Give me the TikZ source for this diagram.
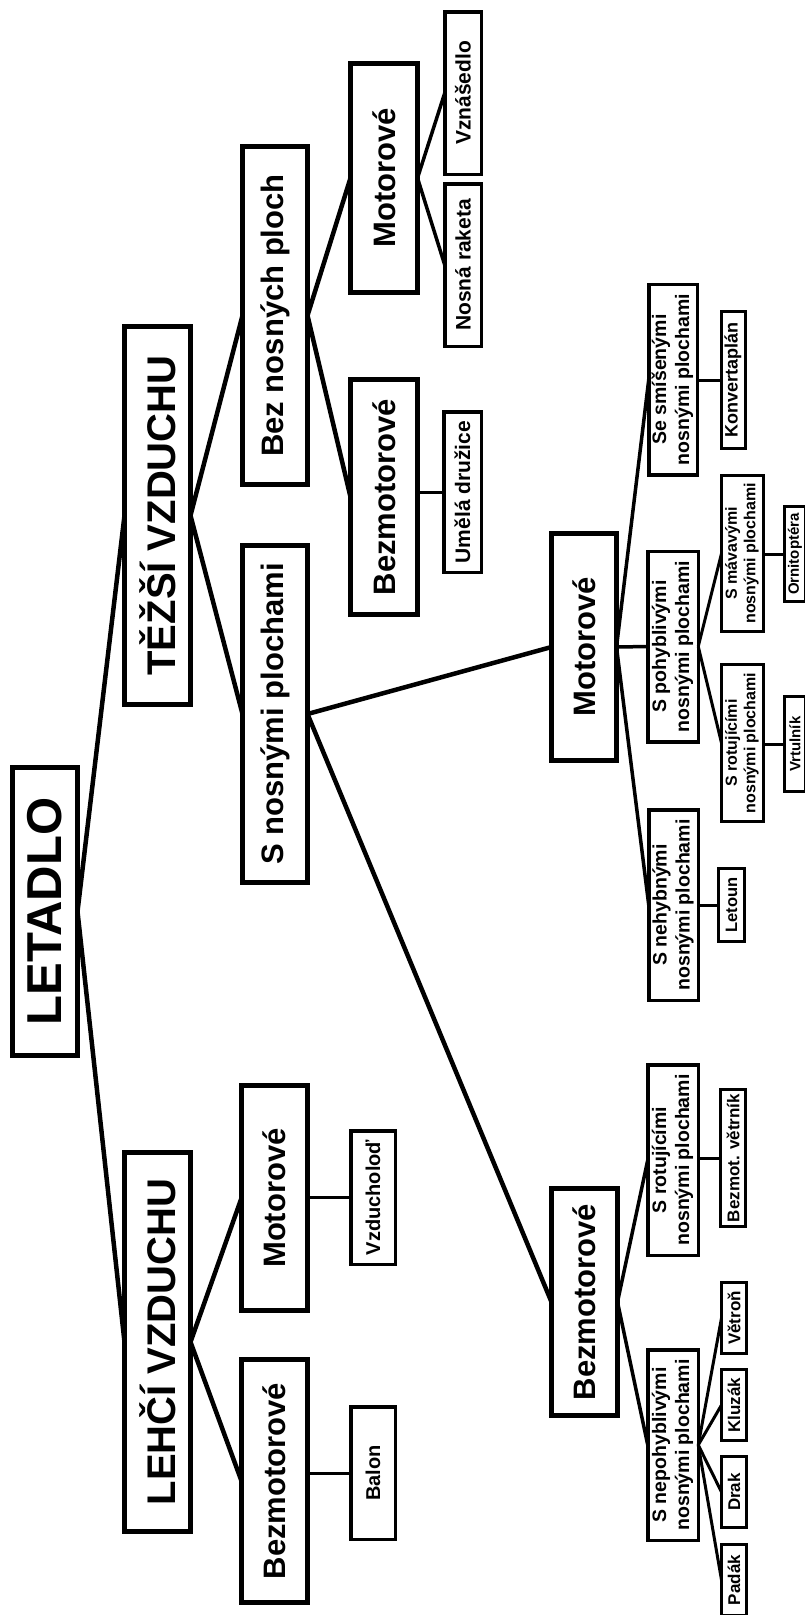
\documentclass[tikz,border=0pt]{standalone}
\usepackage{fontspec}
\setmainfont{Liberation Sans}
\newcommand\myfs[2]{\fontsize{#1}{#2}\selectfont\bfseries}
\newcommand\rt[1]{\rotatebox{90}{#1}}
\newcommand\rtt[2]{\rotatebox{90}{\begin{tabular}{@{}c@{}}#1\\#2\end{tabular}}}
\tikzset{
  bx/.style={draw, inner sep=0pt, outer sep=0pt, align=center},
  w5/.style={bx, line width=5pt},
  w35/.style={bx, line width=3.5pt},
  w3/.style={bx, line width=3pt},
  c45/.style={line width=4.5pt},
  c35/.style={line width=3.5pt},
  c3/.style={line width=3pt},
}
\begin{document}
\begin{tikzpicture}[x=1pt,y=-1pt]
\useasboundingbox[fill=white] (0,0) rectangle (804,1615);
% level 0
\node[w5, minimum width=65pt, minimum height=288pt, font=\myfs{49}{55}] (let) at (45,911.5) {\rt{LETADLO}};
% level 1
\node[w5, minimum width=66pt, minimum height=378pt, font=\myfs{40}{46}] (tez) at (157.5,515.5) {\rt{TĚŽŠÍ VZDUCHU}};
\node[w5, minimum width=66pt, minimum height=379pt, font=\myfs{40}{46}] (leh) at (157.5,1342) {\rt{LEHČÍ VZDUCHU}};
% level 2
\node[w5, minimum width=65pt, minimum height=338pt, font=\myfs{31}{36}] (beznos) at (275,315.5) {\rt{Bez nosných ploch}};
\node[w5, minimum width=65pt, minimum height=337pt, font=\myfs{31}{36}] (snos) at (275,714) {\rt{S nosnými plochami}};
\node[w5, minimum width=66pt, minimum height=225pt, font=\myfs{31}{36}] (lmot) at (274.5,1198) {\rt{Motorové}};
\node[w5, minimum width=66pt, minimum height=243pt, font=\myfs{31}{36}] (lbez) at (274.5,1481) {\rt{Bezmotorové}};
% level 3
\node[w5, minimum width=67pt, minimum height=229pt, font=\myfs{31}{36}] (tmot) at (384,178) {\rt{Motorové}};
\node[w5, minimum width=67pt, minimum height=235pt, font=\myfs{31}{36}] (tbez) at (384,497) {\rt{Bezmotorové}};
\node[w5, minimum width=65pt, minimum height=227pt, font=\myfs{31}{36}] (smot) at (584,647) {\rt{Motorové}};
\node[w5, minimum width=66pt, minimum height=227pt, font=\myfs{31}{36}] (sbez) at (584.5,1302) {\rt{Bezmotorové}};
% leaves of upper branches
\node[w35, minimum width=36.5pt, minimum height=162.5pt, font=\myfs{21}{25}] (vzn) at (463,93) {\rt{Vznášedlo}};
\node[w35, minimum width=36.5pt, minimum height=162.5pt, font=\myfs{21}{25}] (nosr) at (463,265) {\rt{Nosná raketa}};
\node[w35, minimum width=37.5pt, minimum height=160.5pt, font=\myfs{21}{25}] (umel) at (462.5,492) {\rt{Umělá družice}};
\node[w35, minimum width=44.5pt, minimum height=133.5pt, font=\myfs{20}{24}] (vzd) at (373,1197.5) {\rt{Vzducholoď}};
\node[w35, minimum width=44.5pt, minimum height=132.5pt, font=\myfs{20}{24}] (balon) at (373,1473) {\rt{Balon}};
% level 4
\node[w35, minimum width=48.5pt, minimum height=190.5pt, font=\myfs{19.5}{23}] (smis) at (673,379.5) {\rtt{Se smíšenými}{nosnými plochami}};
\node[w35, minimum width=50.5pt, minimum height=190.5pt, font=\myfs{19.5}{23}] (poh) at (673,646.5) {\rtt{S pohyblivými}{nosnými plochami}};
\node[w35, minimum width=49.5pt, minimum height=190.5pt, font=\myfs{19.5}{23}] (neh) at (673.5,905) {\rtt{S nehybnými}{nosnými plochami}};
\node[w35, minimum width=50.5pt, minimum height=190.5pt, font=\myfs{19.5}{23}] (brot) at (673,1160) {\rtt{S rotujícími}{nosnými plochami}};
\node[w35, minimum width=50.5pt, minimum height=190.5pt, font=\myfs{19.5}{23}] (bnep) at (673,1445) {\rtt{S nepohyblivými}{nosnými plochami}};
% leaves level 5
\node[w3, minimum width=24pt, minimum height=137pt, font=\myfs{18}{21}] (konv) at (733,380) {\rt{Konvertaplán}};
\node[w3, minimum width=42pt, minimum height=156pt, font=\myfs{16}{18.5}] (mmav) at (742.5,553.5) {\rtt{S mávavými}{nosnými plochami}};
\node[w3, minimum width=42pt, minimum height=157pt, font=\myfs{16}{18.5}] (mrot) at (742.5,743) {\rtt{S rotujícími}{nosnými plochami}};
\node[w3, minimum width=26pt, minimum height=73pt, font=\myfs{16.5}{20}] (leto) at (731.5,905) {\rt{Letoun}};
\node[w3, minimum width=25pt, minimum height=137pt, font=\myfs{17}{20}] (bvet) at (733,1158) {\rt{Bezmot. větrník}};
\node[w3, minimum width=25pt, minimum height=71pt, font=\myfs{17}{20}] (vetr) at (734,1318) {\rt{Větroň}};
\node[w3, minimum width=25pt, minimum height=71pt, font=\myfs{17}{20}] (kluz) at (734,1405) {\rt{Kluzák}};
\node[w3, minimum width=25pt, minimum height=71pt, font=\myfs{17}{20}] (drak) at (734,1492) {\rt{Drak}};
\node[w3, minimum width=25pt, minimum height=71pt, font=\myfs{17}{20}] (pada) at (734,1580) {\rt{Padák}};
\node[w3, minimum width=21pt, minimum height=95pt, font=\myfs{15}{18}] (orni) at (795,554) {\rt{Ornitoptéra}};
\node[w3, minimum width=21pt, minimum height=95pt, font=\myfs{15}{18}] (vrt) at (795,744) {\rt{Vrtulník}};
% connectors
\draw[c45] (let.east) -- (tez.west);
\draw[c45] (let.east) -- (leh.west);
\draw[c45] (tez.east) -- (beznos.west);
\draw[c45] (tez.east) -- (snos.west);
\draw[c45] (leh.east) -- (lmot.west);
\draw[c45] (leh.east) -- (lbez.west);
\draw[c45] (beznos.east) -- (tmot.west);
\draw[c45] (beznos.east) -- (tbez.west);
\draw[c45] (snos.east) -- (smot.west);
\draw[c45] (snos.east) -- (sbez.west);
\draw[c35] (tmot.east) -- (vzn.west);
\draw[c35] (tmot.east) -- (nosr.west);
\draw[c3] (umel.west) -- (umel.west -| tbez.east);
\draw[c3] (vzd.west) -- (vzd.west -| lmot.east);
\draw[c3] (balon.west) -- (balon.west -| lbez.east);
\draw[c35] (smot.east) -- (smis.west);
\draw[c35] (smot.east) -- (poh.west);
\draw[c35] (smot.east) -- (neh.west);
\draw[c35] (sbez.east) -- (brot.west);
\draw[c35] (sbez.east) -- (bnep.west);
\draw[c3] (konv.west) -- (konv.west -| smis.east);
\draw[c3] (leto.west) -- (leto.west -| neh.east);
\draw[c3] (poh.east) -- (mmav.west);
\draw[c3] (poh.east) -- (mrot.west);
\draw[c3] (orni.west) -- (orni.west -| mmav.east);
\draw[c3] (vrt.west) -- (vrt.west -| mrot.east);
\draw[c3] (bvet.west) -- (bvet.west -| brot.east);
\draw[c3] (bnep.east) -- (vetr.west);
\draw[c3] (bnep.east) -- (kluz.west);
\draw[c3] (bnep.east) -- (drak.west);
\draw[c3] (bnep.east) -- (pada.west);
\end{tikzpicture}
\end{document}
